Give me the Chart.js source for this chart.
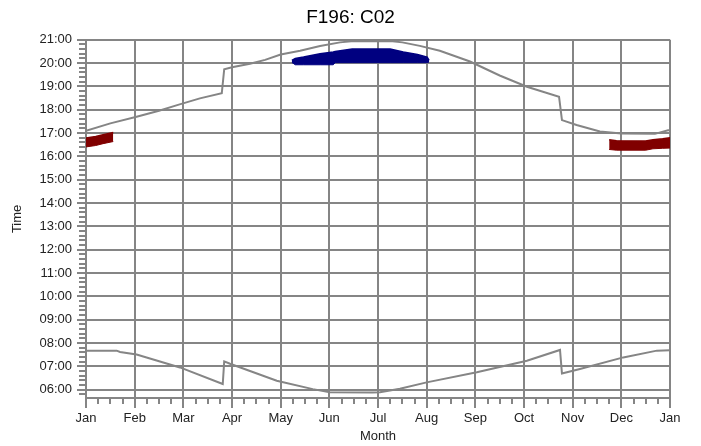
<!DOCTYPE html>
<html><head><meta charset="utf-8">
<script src="https://cdn.jsdelivr.net/npm/chart.js@4/dist/chart.umd.min.js"></script>
<style>html,body{margin:0;padding:0;background:#fff}</style>
</head><body>
<canvas id="c" width="701" height="446"></canvas>
<script>
// ---- data (x in months from 1 Jan, y in decimal hours) ----
const monthLabels = ['Jan','Feb','Mar','Apr','May','Jun','Jul','Aug','Sep','Oct','Nov','Dec','Jan'];

const sunsetMonth = [0, 0.5, 1.04, 1.5, 1.89, 2.34, 2.79, 2.84, 3.0, 3.37, 3.68, 4.0, 4.4, 4.81, 5.22, 5.45, 6.3, 6.5, 6.86, 7.27, 7.89, 8.5, 9.06, 9.72, 9.78, 10.08, 10.56, 11.0, 11.69, 11.96, 12];
const sunsetTime  = [17.10, 17.42, 17.70, 17.96, 18.21, 18.49, 18.71, 19.74, 19.82, 19.97, 20.14, 20.37, 20.53, 20.73, 20.89, 20.94, 20.94, 20.89, 20.74, 20.53, 20.07, 19.47, 18.99, 18.56, 17.56, 17.35, 17.07, 16.98, 16.97, 17.12, 17.12];

const sunriseMonth = [0, 0.63, 0.70, 1.04, 1.93, 2.81, 2.84, 2.96, 3.92, 4.66, 5.01, 5.88, 6.04, 6.45, 7.0, 8.03, 9.06, 9.74, 9.78, 10.15, 11.04, 11.73, 12];
const sunriseTime  = [7.68, 7.68, 7.62, 7.51, 6.96, 6.25, 7.22, 7.12, 6.39, 6.03, 5.90, 5.89, 5.90, 6.05, 6.32, 6.75, 7.25, 7.71, 6.70, 6.89, 7.39, 7.68, 7.70];

const janBandMonth = [0, 0.2, 0.35, 0.56];
const janBandLow   = [16.41, 16.47, 16.55, 16.64];
const janBandHigh  = [16.79, 16.86, 16.93, 17.03];

const decBandMonth = [10.75, 10.9, 11.5, 11.65, 11.85, 12];
const decBandLow   = [16.30, 16.27, 16.27, 16.33, 16.35, 16.36];
const decBandHigh  = [16.72, 16.67, 16.66, 16.72, 16.76, 16.80];

const sumBandMonth = [4.23, 4.30, 4.47, 4.81, 5.08, 5.12, 5.47, 6.25, 6.52, 6.81, 7.01, 7.05];
const sumBandLow   = [20.03, 19.93, 19.93, 19.93, 19.93, 20.02, 20.02, 20.02, 20.02, 20.02, 20.02, 20.05];
const sumBandHigh  = [20.12, 20.20, 20.26, 20.40, 20.48, 20.50, 20.61, 20.61, 20.48, 20.37, 20.26, 20.12];

// ---- styling ----
const gridColor = '#858585';
const red = '#800000';
const blue = '#000080';

const pts = (xs, ys) => xs.map((x, i) => ({x: x, y: ys[i]}));
const pad2 = v => (v < 10 ? '0' : '') + v + ':00';

function lineDs(xs, ys) {
  return {data: pts(xs, ys), borderColor: gridColor, borderWidth: 2, pointRadius: 0, tension: 0, fill: false};
}
function bandLow(xs, ys, c) {
  return {data: pts(xs, ys), borderColor: c, borderWidth: 1, pointRadius: 0, tension: 0, fill: false};
}
function bandHigh(xs, ys, c) {
  return {data: pts(xs, ys), borderColor: c, backgroundColor: c, borderWidth: 1.5, pointRadius: 0, tension: 0, fill: '-1'};
}

const minorTicks = {
  id: 'minorTicks',
  afterDraw(chart) {
    const {ctx} = chart;
    const x = chart.scales.x, y = chart.scales.y;
    ctx.save();
    ctx.strokeStyle = gridColor;
    ctx.lineWidth = 2;
    for (let i = 1; i < 48; i++) {
      if (i % 4 === 0) continue;
      const px = Math.round(x.getPixelForValue(i / 4));
      ctx.beginPath(); ctx.moveTo(px, y.bottom); ctx.lineTo(px, y.bottom + 6); ctx.stroke();
    }
    for (let k = Math.ceil(y.min * 5); k < y.max * 5; k++) {
      if (k % 5 === 0) continue;
      const py = Math.round(y.getPixelForValue(k / 5));
      ctx.beginPath(); ctx.moveTo(x.left - 7, py); ctx.lineTo(x.left, py); ctx.stroke();
    }
    ctx.restore();
  }
};

Chart.defaults.font.family = '"Liberation Sans", Arial, sans-serif';
Chart.defaults.color = '#222';

new Chart(document.getElementById('c'), {
  type: 'line',
  data: {
    datasets: [
      lineDs(sunsetMonth, sunsetTime),
      lineDs(sunriseMonth, sunriseTime),
      bandLow(janBandMonth, janBandLow, red),
      bandHigh(janBandMonth, janBandHigh, red),
      bandLow(decBandMonth, decBandLow, red),
      bandHigh(decBandMonth, decBandHigh, red),
      bandLow(sumBandMonth, sumBandLow, blue),
      bandHigh(sumBandMonth, sumBandHigh, blue)
    ]
  },
  options: {
    responsive: false,
    animation: false,
    devicePixelRatio: 1,
    layout: {padding: 0},
    plugins: {
      legend: {display: false},
      tooltip: {enabled: false},
      title: {display: true, text: 'F196: C02', color: '#000', font: {size: 19, weight: 'normal'}, padding: {top: 6, bottom: 11}}
    },
    scales: {
      x: {
        type: 'linear', min: 0, max: 12, z: 1,
        afterFit(s) { s.height = 48; },
        ticks: {stepSize: 1, autoSkip: false, maxRotation: 0, padding: 3, font: {size: 13}, color: '#222',
                callback: v => monthLabels[Math.round(v)]},
        grid: {color: gridColor, lineWidth: 2, tickLength: 10, tickColor: gridColor},
        border: {color: gridColor, width: 2},
        title: {display: true, text: 'Month', font: {size: 13}, color: '#222', padding: {top: 0, bottom: 2}}
      },
      y: {
        type: 'linear', min: 5.65, max: 21, z: 1,
        afterFit(s) { s.width = 86; },
        ticks: {stepSize: 1, includeBounds: false, autoSkip: false, padding: 5, font: {size: 13}, color: '#222',
                callback: v => pad2(Math.round(v))},
        grid: {color: gridColor, lineWidth: 2, tickLength: 9, tickColor: gridColor},
        border: {color: gridColor, width: 2},
        title: {display: true, text: 'Time', font: {size: 13}, color: '#222', padding: {top: 10, bottom: 0}}
      },
      yRight: {
        type: 'linear', position: 'right', min: 5.65, max: 21,
        afterFit(s) { s.width = 31; },
        ticks: {display: false},
        grid: {display: false, drawTicks: false},
        border: {display: false}
      }
    }
  },
  plugins: [minorTicks]
});
</script>
</body></html>
